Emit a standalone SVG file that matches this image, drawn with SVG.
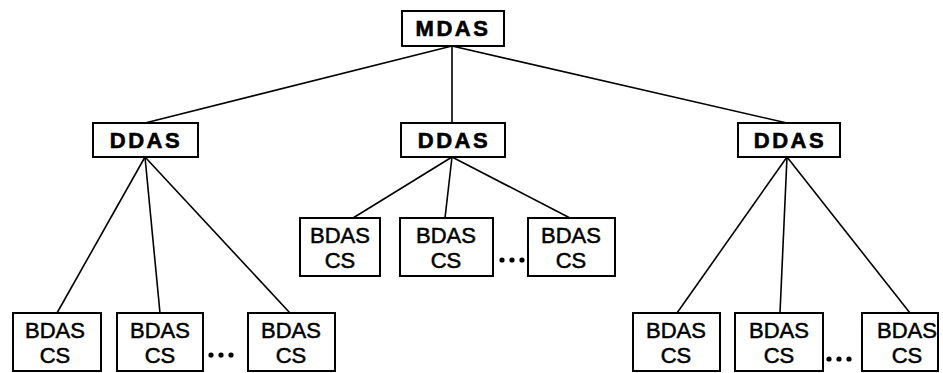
<svg xmlns="http://www.w3.org/2000/svg" width="943" height="373" viewBox="0 0 943 373">
  <style>
    .box { fill: #fff; stroke: #000; stroke-width: 2; }
    .head { font-family: "Liberation Sans", Arial, sans-serif; font-weight: bold; font-size: 22px; letter-spacing: 2.5px; text-anchor: middle; stroke: #000; stroke-width: 0.6; }
    .leaf { font-family: "Liberation Sans", Arial, sans-serif; font-size: 22px; text-anchor: middle; stroke: #000; stroke-width: 0.5; }
    .link { stroke: #000; stroke-width: 1.6; fill: none; }
    .dot { fill: #000; }
  </style>
  <rect width="943" height="373" fill="#fff"/>

  <g id="connectors">
    <line class="link" x1="452" y1="46" x2="145" y2="123"/>
    <line class="link" x1="452" y1="46" x2="452" y2="123"/>
    <line class="link" x1="452" y1="46" x2="787" y2="123"/>

    <line class="link" x1="145" y1="157" x2="57" y2="313"/>
    <line class="link" x1="145" y1="157" x2="160" y2="313"/>
    <line class="link" x1="145" y1="157" x2="290" y2="313"/>

    <line class="link" x1="452" y1="157" x2="353" y2="218"/>
    <line class="link" x1="452" y1="157" x2="445" y2="218"/>
    <line class="link" x1="452" y1="157" x2="570" y2="218"/>

    <line class="link" x1="787" y1="157" x2="677" y2="313"/>
    <line class="link" x1="787" y1="157" x2="780" y2="313"/>
    <line class="link" x1="787" y1="157" x2="910" y2="313"/>
  </g>

  <defs>
    <g id="ellipsis">
      <circle class="dot" cx="0" cy="0" r="2.6"/>
      <circle class="dot" cx="10" cy="0" r="2.6"/>
      <circle class="dot" cx="20" cy="0" r="2.6"/>
    </g>
  </defs>

  <g id="mdas">
    <rect class="box" x="402" y="11" width="102" height="35"/>
    <text class="head" x="453" y="36">MDAS</text>
  </g>

  <g id="ddas-left">
    <rect class="box" x="93" y="123" width="105" height="34"/>
    <text class="head" x="146" y="148">DDAS</text>
  </g>
  <g id="ddas-mid">
    <rect class="box" x="401" y="123" width="104" height="34"/>
    <text class="head" x="454" y="148">DDAS</text>
  </g>
  <g id="ddas-right">
    <rect class="box" x="738" y="123" width="102" height="34"/>
    <text class="head" x="790" y="148">DDAS</text>
  </g>

  <!-- left branch -->
  <g id="bdas-l1">
    <rect class="box" x="13" y="313" width="88" height="58"/>
    <text class="leaf" x="55" y="338">BDAS</text>
    <text class="leaf" x="55" y="363">CS</text>
  </g>
  <g id="bdas-l2">
    <rect class="box" x="117" y="313" width="86" height="58"/>
    <text class="leaf" x="160" y="338">BDAS</text>
    <text class="leaf" x="160" y="363">CS</text>
  </g>
  <use href="#ellipsis" x="211" y="355"/>
  <g id="bdas-l3">
    <rect class="box" x="248" y="313" width="87" height="58"/>
    <text class="leaf" x="291" y="338">BDAS</text>
    <text class="leaf" x="291" y="363">CS</text>
  </g>

  <!-- middle branch -->
  <g id="bdas-m1">
    <rect class="box" x="300" y="218" width="80" height="58"/>
    <text class="leaf" x="340" y="243">BDAS</text>
    <text class="leaf" x="340" y="268">CS</text>
  </g>
  <g id="bdas-m2">
    <rect class="box" x="400" y="218" width="93" height="58"/>
    <text class="leaf" x="446" y="243">BDAS</text>
    <text class="leaf" x="446" y="268">CS</text>
  </g>
  <use href="#ellipsis" x="502" y="260"/>
  <g id="bdas-m3">
    <rect class="box" x="528" y="218" width="87" height="58"/>
    <text class="leaf" x="571" y="243">BDAS</text>
    <text class="leaf" x="571" y="268">CS</text>
  </g>

  <!-- right branch -->
  <g id="bdas-r1">
    <rect class="box" x="633" y="313" width="87" height="58"/>
    <text class="leaf" x="676" y="338">BDAS</text>
    <text class="leaf" x="676" y="363">CS</text>
  </g>
  <g id="bdas-r2">
    <rect class="box" x="735" y="313" width="88" height="58"/>
    <text class="leaf" x="779" y="338">BDAS</text>
    <text class="leaf" x="779" y="363">CS</text>
  </g>
  <use href="#ellipsis" x="829" y="359"/>
  <g id="bdas-r3">
    <rect class="box" x="862" y="313" width="76" height="58"/>
    <text class="leaf" x="907" y="338">BDAS</text>
    <text class="leaf" x="907" y="363">CS</text>
  </g>
</svg>
